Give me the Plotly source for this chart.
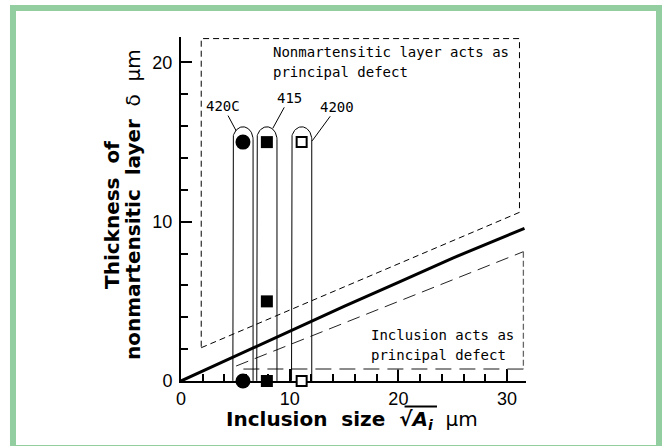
import numpy as np
import plotly.graph_objects as go

# ---------------- data ----------------
curve_x = [0, 2, 5, 10, 15, 20, 25, 31.6]
curve_delta = [0, 0.63, 1.58, 3.15, 4.68, 6.2, 7.72, 9.58]

upper_region_x = [1.86, 31.14, 31.14, 1.86, 1.86]
upper_region_y = [2.09, 10.59, 21.5, 21.5, 2.09]

lower_diag_x = [5.07, 31.5]
lower_diag_y = [0.94, 8.12]
lower_side_x = [31.5, 31.5]
lower_side_y = [8.12, 0.75]
lower_base_x = [31.5, 5.5]
lower_base_y = [0.75, 0.75]

series_names = ["420C", "415", "4200"]
series_x = [[5.7, 5.7], [7.9, 7.9, 7.9], [11.1, 11.1]]
series_y = [[15, 0], [15, 5, 0], [15, 0]]

label_pos = {"420C": (3.86, 17.26), "415": (9.98, 17.78), "4200": (14.37, 17.22)}
label_tip = {"420C": (5.08, 15.7), "415": (8.44, 15.86), "4200": (12.07, 15.08)}

x_ticks = [0, 10, 20, 30]
y_ticks = [0, 10, 20]

# ---------------- figure ----------------
fig = go.Figure()

fig.add_trace(go.Scatter(x=upper_region_x, y=upper_region_y, mode="lines",
                         line=dict(color="black", width=1, dash="6px,4px"),
                         hoverinfo="skip", showlegend=False))
fig.add_trace(go.Scatter(x=lower_diag_x, y=lower_diag_y, mode="lines",
                         line=dict(color="#222", width=1, dash="13px,7px"),
                         hoverinfo="skip", showlegend=False))
fig.add_trace(go.Scatter(x=lower_side_x, y=lower_side_y, mode="lines",
                         line=dict(color="#666", width=1.3, dash="6px,3px"),
                         hoverinfo="skip", showlegend=False))
fig.add_trace(go.Scatter(x=lower_base_x, y=lower_base_y, mode="lines",
                         line=dict(color="#666", width=1.5, dash="16px,8px"),
                         hoverinfo="skip", showlegend=False))

fig.add_trace(go.Scatter(x=curve_x, y=curve_delta, mode="lines",
                         line=dict(color="black", width=3),
                         hoverinfo="skip", showlegend=False))

hw, ry, pad_t, pad_b = 0.93, 0.8, 0.96, 0.78
for name, xs, ys in zip(series_names, series_x, series_y):
    cx = float(np.mean(xs))
    ytop = max(ys) + pad_t
    ybot = min(ys) - pad_b
    t1 = np.linspace(np.pi, 0, 40)
    t2 = np.linspace(0, -np.pi, 40)
    px = np.concatenate([[cx - hw], cx + hw * np.cos(t1), [cx + hw], cx + hw * np.cos(t2), [cx - hw]])
    py = np.concatenate([[ybot + ry], ytop - ry + ry * np.sin(t1), [ybot + ry],
                         ybot + ry + ry * np.sin(t2), [ybot + ry]])
    fig.add_trace(go.Scatter(x=px, y=py, mode="lines", line=dict(color="black", width=1),
                             hoverinfo="skip", showlegend=False, cliponaxis=False))

marker_styles = {
    "420C": dict(symbol="circle", size=15, color="black", line=dict(width=0)),
    "415": dict(symbol="square", size=12, color="black", line=dict(width=0)),
    "4200": dict(symbol="square", size=10, color="white", line=dict(width=2, color="black")),
}
for name, xs, ys in zip(series_names, series_x, series_y):
    fig.add_trace(go.Scatter(x=xs, y=ys, mode="markers", name=name,
                             marker=marker_styles[name], cliponaxis=False, showlegend=False))

mono = dict(family="DejaVu Sans Mono", size=14, color="black")
ann = []
for name in series_names:
    lx, ly = label_pos[name]
    tx, ty = label_tip[name]
    ann.append(dict(x=tx, y=ty, ax=lx, ay=ly, xref="x", yref="y", axref="x", ayref="y",
                    text=name, showarrow=True, arrowhead=0, arrowwidth=1, arrowcolor="black",
                    font=mono))

region_texts = [
    ("Nonmartensitic layer acts as", 8.30, 20.67),
    ("principal defect", 8.30, 19.40),
    ("Inclusion acts as", 17.30, 2.89),
    ("principal defect", 17.30, 1.63),
]
for txt, x, y in region_texts:
    ann.append(dict(x=x, y=y, xref="x", yref="y", text=txt.replace(" ", "\u00a0"),
                    showarrow=False, xanchor="left", yanchor="middle", font=mono))

bold = dict(family="DejaVu Sans", size=20, color="black")
sp = "\u00a0\u00a0"
ann.append(dict(x=-0.2, y=0.4826, xref="paper", yref="paper", textangle=-90,
                text="<b>Thickness" + sp + "of</b>", showarrow=False, font=bold,
                xanchor="center", yanchor="middle"))
ann.append(dict(x=-0.139, y=0.5116, xref="paper", yref="paper", textangle=-90,
                text="<b>nonmartensitic" + sp + "layer</b>" + sp + "δ" + sp + "μm",
                showarrow=False, font=bold, xanchor="center", yanchor="middle"))
ann.append(dict(x=0.4957, y=-0.1145, xref="paper", yref="paper",
                text="<b>Inclusion" + sp + "size" + sp + "√<i>A<sub>i</sub></i></b>" + sp + "μm",
                showarrow=False, font=bold, xanchor="center", yanchor="middle"))

frame_color = "#92cea0"
shapes = [
    dict(type="rect", xref="paper", yref="paper", x0=-0.487, x1=1.3855, y0=-0.1948, y1=1.0846,
         line=dict(color=frame_color, width=6), fillcolor="rgba(0,0,0,0)", layer="below"),
    # overline of the square-root sign
    dict(type="line", xref="paper", yref="paper", x0=0.648, x1=0.742, y0=-0.074, y1=-0.074,
         line=dict(color="black", width=2)),
]

tickfont = dict(family="Liberation Sans", size=18, color="black")
fig.update_layout(
    width=662, height=446,
    margin=dict(l=181, r=136, t=37, b=65, autoexpand=False),
    paper_bgcolor="white", plot_bgcolor="white",
    showlegend=False,
    annotations=ann, shapes=shapes,
    xaxis=dict(range=[0, 31.74], showgrid=False, zeroline=False, showline=True, linecolor="black",
               linewidth=2, ticks="inside", ticklen=12, tickwidth=2, tickcolor="black",
               tickvals=x_ticks, ticktext=[str(v) for v in x_ticks], tickfont=tickfont,
               ticklabelstandoff=0, layer="below traces",
               minor=dict(ticks="inside", ticklen=7, tickwidth=2, tickcolor="black", dtick=2, tick0=0)),
    yaxis=dict(range=[0, 21.6], showgrid=False, zeroline=False, showline=True, linecolor="black",
               linewidth=2, ticks="inside", ticklen=11, tickwidth=2, tickcolor="black",
               tickvals=y_ticks, ticktext=[str(v) for v in y_ticks], tickfont=tickfont,
               ticklabelstandoff=3, layer="below traces",
               minor=dict(ticks="inside", ticklen=7, tickwidth=2, tickcolor="black", dtick=2, tick0=0)),
)

fig.write_html("out.html", config={"displayModeBar": False},
               post_script="document.body.style.margin='0';document.body.style.overflow='hidden';")
